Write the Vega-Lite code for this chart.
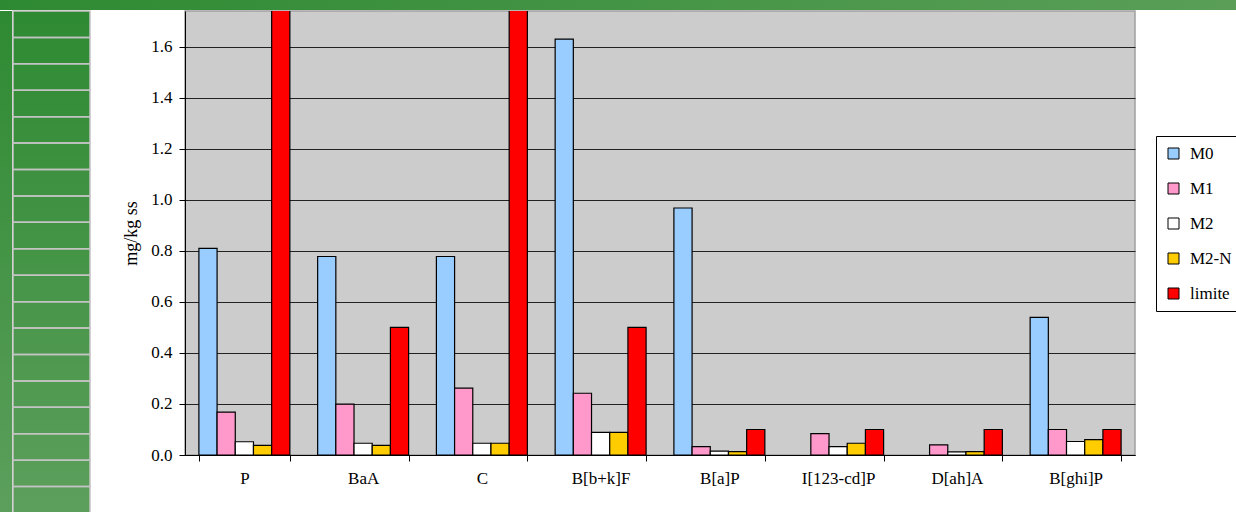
{
  "$schema": "https://vega.github.io/schema/vega-lite/v6.json",
  "padding": 0,
  "background": "white",
  "config": {
    "font": "Liberation Serif",
    "view": {"stroke": null},
    "concat": {"spacing": 0},
    "legend": {"labelFont": "Liberation Serif"}
  },
  "datasets": {
    "bars": [
      {"compound": "P", "series": "M0", "value": 0.81},
      {"compound": "P", "series": "M1", "value": 0.168},
      {"compound": "P", "series": "M2", "value": 0.052},
      {"compound": "P", "series": "M2-N", "value": 0.038},
      {"compound": "P", "series": "limite", "value": 2.0},
      {"compound": "BaA", "series": "M0", "value": 0.778},
      {"compound": "BaA", "series": "M1", "value": 0.199},
      {"compound": "BaA", "series": "M2", "value": 0.046},
      {"compound": "BaA", "series": "M2-N", "value": 0.038},
      {"compound": "BaA", "series": "limite", "value": 0.5},
      {"compound": "C", "series": "M0", "value": 0.778},
      {"compound": "C", "series": "M1", "value": 0.262},
      {"compound": "C", "series": "M2", "value": 0.046},
      {"compound": "C", "series": "M2-N", "value": 0.046},
      {"compound": "C", "series": "limite", "value": 2.0},
      {"compound": "B[b+k]F", "series": "M0", "value": 1.63},
      {"compound": "B[b+k]F", "series": "M1", "value": 0.242},
      {"compound": "B[b+k]F", "series": "M2", "value": 0.089},
      {"compound": "B[b+k]F", "series": "M2-N", "value": 0.089},
      {"compound": "B[b+k]F", "series": "limite", "value": 0.5},
      {"compound": "B[a]P", "series": "M0", "value": 0.968},
      {"compound": "B[a]P", "series": "M1", "value": 0.033},
      {"compound": "B[a]P", "series": "M2", "value": 0.015},
      {"compound": "B[a]P", "series": "M2-N", "value": 0.013},
      {"compound": "B[a]P", "series": "limite", "value": 0.1},
      {"compound": "I[123-cd]P", "series": "M1", "value": 0.084},
      {"compound": "I[123-cd]P", "series": "M2", "value": 0.033},
      {"compound": "I[123-cd]P", "series": "M2-N", "value": 0.046},
      {"compound": "I[123-cd]P", "series": "limite", "value": 0.1},
      {"compound": "D[ah]A", "series": "M1", "value": 0.04},
      {"compound": "D[ah]A", "series": "M2", "value": 0.012},
      {"compound": "D[ah]A", "series": "M2-N", "value": 0.013},
      {"compound": "D[ah]A", "series": "limite", "value": 0.1},
      {"compound": "B[ghi]P", "series": "M0", "value": 0.539},
      {"compound": "B[ghi]P", "series": "M1", "value": 0.1},
      {"compound": "B[ghi]P", "series": "M2", "value": 0.053},
      {"compound": "B[ghi]P", "series": "M2-N", "value": 0.06},
      {"compound": "B[ghi]P", "series": "limite", "value": 0.1}
    ],
    "stripes": [
      {"s": 0}, {"s": 1}, {"s": 2}, {"s": 3}, {"s": 4}, {"s": 5}, {"s": 6},
      {"s": 7}, {"s": 8}, {"s": 9}, {"s": 10}, {"s": 11}, {"s": 12}, {"s": 13},
      {"s": 14}, {"s": 15}, {"s": 16}, {"s": 17}, {"s": 18}
    ]
  },
  "resolve": {"scale": {"color": "independent"}, "legend": {"color": "independent"}},
  "vconcat": [
    {
      "width": 1236,
      "height": 10,
      "view": {
        "stroke": null,
        "fill": {"gradient": "linear", "x1": 0, "y1": 0, "x2": 1, "y2": 0,
                 "stops": [{"offset": 0, "color": "#2e8a32"}, {"offset": 1, "color": "#5a9e58"}]}
      },
      "data": {"values": [{}]},
      "mark": {"type": "point", "opacity": 0},
      "encoding": {}
    },
    {
      "spacing": 31,
      "resolve": {"scale": {"color": "independent"}, "legend": {"color": "independent"}},
      "hconcat": [
        {
          "spacing": 0,
          "hconcat": [
            {
              "width": 12,
              "height": 502,
              "view": {
                "stroke": null,
                "fill": {"gradient": "linear", "x1": 0, "y1": 0, "x2": 0, "y2": 1,
                         "stops": [{"offset": 0, "color": "#2e8a32"}, {"offset": 1, "color": "#5c9f5c"}]}
              },
              "data": {"values": [{}]},
              "mark": {"type": "point", "opacity": 0},
              "encoding": {}
            },
            {
              "width": 77,
              "height": 502,
              "view": {
                "stroke": null,
                "fill": {"gradient": "linear", "x1": 0, "y1": 0, "x2": 0, "y2": 1,
                         "stops": [{"offset": 0, "color": "#2e8a32"}, {"offset": 1, "color": "#5c9f5c"}]}
              },
              "data": {"name": "stripes"},
              "mark": {"type": "rect", "fillOpacity": 0, "stroke": "#c4c4c4", "strokeWidth": 1.5},
              "encoding": {
                "y": {"field": "s", "type": "ordinal", "axis": null,
                      "scale": {"paddingInner": 0, "paddingOuter": 0}}
              }
            }
          ]
        },
        {
          "width": 950,
          "height": 444,
          "view": {"fill": "#cccccc", "stroke": "#a0a0a0", "strokeWidth": 1.5},
          "data": {"name": "bars"},
          "mark": {"type": "bar", "stroke": "black", "strokeWidth": 1.2, "clip": true},
          "encoding": {
            "x": {
              "field": "compound", "type": "nominal",
              "sort": ["P", "BaA", "C", "B[b+k]F", "B[a]P", "I[123-cd]P", "D[ah]A", "B[ghi]P"],
              "scale": {"paddingInner": 0.234, "paddingOuter": 0.117},
              "axis": {
                "title": null, "labelAngle": 0, "tickBand": "extent",
                "domainColor": "black", "tickColor": "black", "tickSize": 6,
                "labelFont": "Liberation Serif", "labelFontSize": 17, "labelColor": "black",
                "labelPadding": 9
              }
            },
            "xOffset": {
              "field": "series", "type": "nominal",
              "sort": ["M0", "M1", "M2", "M2-N", "limite"],
              "scale": {"paddingInner": 0, "paddingOuter": 0}
            },
            "y": {
              "field": "value", "type": "quantitative",
              "scale": {"domain": [0, 1.74], "nice": false, "zero": true},
              "axis": {
                "title": "mg/kg ss",
                "values": [0, 0.2, 0.4, 0.6, 0.8, 1.0, 1.2, 1.4, 1.6],
                "format": ".1f",
                "grid": true, "gridColor": "#222222", "gridWidth": 1,
                "domainColor": "black", "tickColor": "black", "tickSize": 6,
                "labelFont": "Liberation Serif", "labelFontSize": 17, "labelColor": "black",
                "labelPadding": 7,
                "titleFont": "Liberation Serif", "titleFontSize": 18, "titleFontWeight": "normal",
                "titleColor": "black", "titlePadding": 10
              }
            },
            "color": {
              "field": "series", "type": "nominal",
              "scale": {
                "domain": ["M0", "M1", "M2", "M2-N", "limite"],
                "range": ["#99ccff", "#ff99cc", "#ffffff", "#ffcc00", "#ff0000"]
              },
              "legend": {
                "title": null, "orient": "none", "legendX": 971, "legendY": 125,
                "strokeColor": "black", "fillColor": "white", "padding": 9,
                "symbolType": "square", "symbolSize": 121,
                "symbolStrokeColor": "black", "symbolStrokeWidth": 1, "symbolOpacity": 1,
                "labelFont": "Liberation Serif", "labelFontSize": 17, "labelColor": "black",
                "rowPadding": 17, "labelOffset": 8,
                "labelLimit": 200,
                "encode": {
                  "labels": {"update": {"font": {"value": "Liberation Serif"}, "fontSize": {"value": 17}}}
                }
              }
            }
          }
        }
      ]
    }
  ]
}
